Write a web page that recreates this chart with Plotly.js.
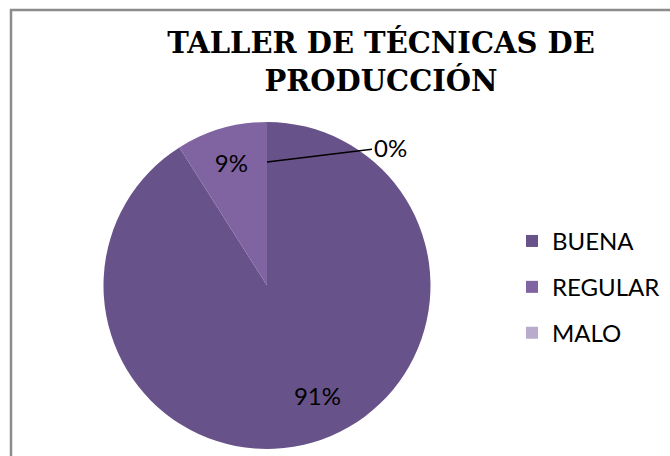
<!DOCTYPE html>
<html>
<head>
<meta charset="utf-8">
<script src="https://cdn.plot.ly/plotly-3.0.1.min.js"></script>
<style>html,body{margin:0;padding:0;background:#fff;}#chart{width:670px;height:456px;}</style>
</head>
<body>
<div id="chart"></div>
<script>
const chartTitle = 'TALLER DE TÉCNICAS DE<br>PRODUCCIÓN';
const categories = ['BUENA', 'REGULAR', 'MALO'];
const values = [91, 9, 0];
const colors = ['#68528a', '#8064a2', '#b9abcc'];

const total = values.reduce((a, b) => a + b, 0);
const pctText = values.map(v => Math.round(v / total * 100) + '%');
// presentation padding so the large slice label sits where the reference shows it
const sliceText = pctText.map((t, i) => i === 0 ? '&nbsp;<br>&nbsp;<br>' + '&nbsp;'.repeat(9) + t : t);

const pieTrace = {
  type: 'pie',
  labels: categories.map(c => '<span style="font-size:24px;baseline-shift:4px">' + c + '</span>'),
  values: values,
  text: sliceText,
  textinfo: 'text',
  textposition: ['inside', 'inside', 'none'],
  insidetextorientation: 'horizontal',
  textfont: {family: 'Lato, sans-serif', size: 24, color: '#000'},
  marker: {colors: colors, line: {color: '#ffffff', width: 0}},
  sort: false,
  direction: 'clockwise',
  rotation: 0,
  domain: {x: [103/670, 431/670], y: [1 - 449/456, 1 - 122/456]},
  hoverinfo: 'label+percent'
};

const layout = {
  width: 670, height: 456,
  margin: {l: 0, r: 0, t: 0, b: 0},
  paper_bgcolor: '#fff',
  showlegend: true,
  title: {
    text: chartTitle,
    font: {family: 'DejaVu Serif, serif', size: 29, color: '#000', weight: 'bold'},
    x: 381/670, xanchor: 'center', xref: 'paper',
    y: 1 - 53/456, yanchor: 'top', yref: 'container'
  },
  legend: {
    x: 512/670, xanchor: 'left', y: 1 - 287/456, yanchor: 'middle',
    font: {family: 'Lato, sans-serif', size: 33, color: '#000'},
    bgcolor: 'rgba(0,0,0,0)'
  },
  annotations: [{
    xref: 'paper', yref: 'paper',
    x: 267/670, y: 1 - 162/456,
    ax: 123, ay: -15, axref: 'pixel', ayref: 'pixel',
    text: pctText[2],
    showarrow: true, arrowhead: 0, arrowwidth: 1.5, arrowcolor: '#000',
    font: {family: 'Lato, sans-serif', size: 24, color: '#000'},
    standoff: 0, startstandoff: 0
  }],
  shapes: [{
    type: 'rect', xref: 'paper', yref: 'paper',
    x0: 11/670, x1: 1.05, y0: -0.1, y1: 1 - 10/456,
    line: {color: '#8c8c8c', width: 2.5}, fillcolor: 'rgba(0,0,0,0)'
  }]
};

Plotly.newPlot('chart', [pieTrace], layout, {displayModeBar: false, staticPlot: true});
</script>
</body>
</html>
